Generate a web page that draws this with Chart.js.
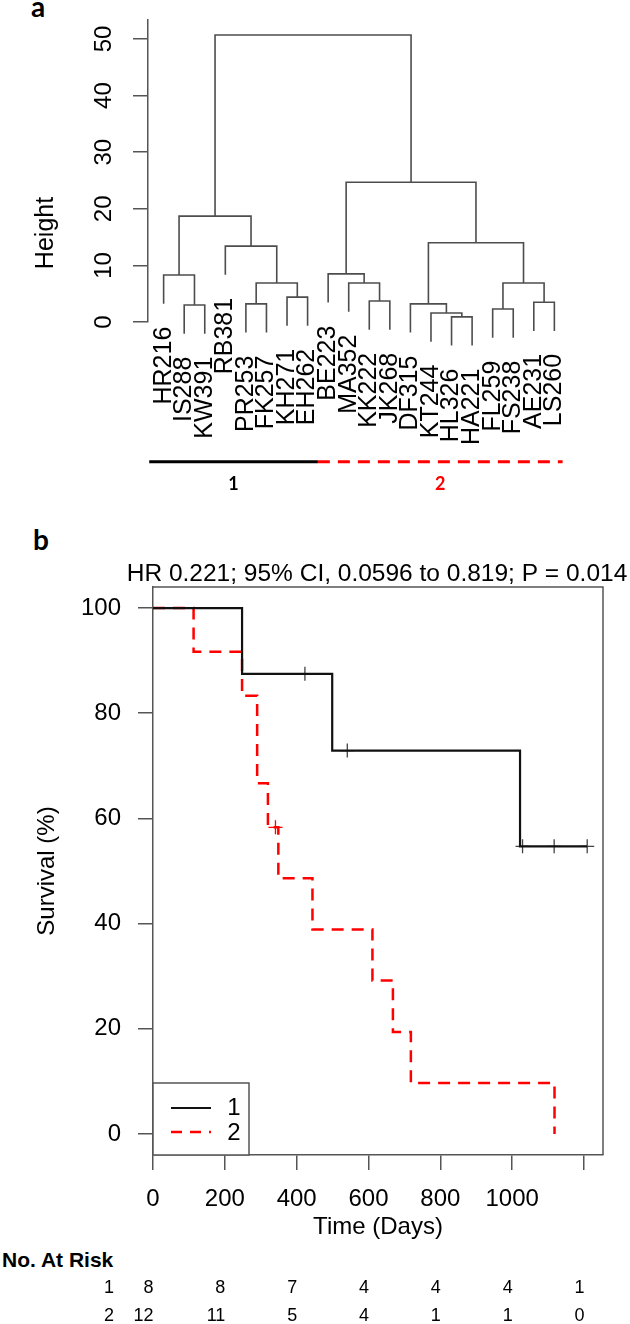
<!DOCTYPE html>
<html><head><meta charset="utf-8">
<script src="https://cdn.jsdelivr.net/npm/chart.js@4.4.0/dist/chart.umd.min.js"></script>
<style>
html,body{margin:0;padding:0;background:#fff;}
body{width:630px;height:1324px;position:relative;overflow:hidden;font-family:"Liberation Sans",Arial,sans-serif;}
canvas{position:absolute;left:0;}
#c1{top:0;} #c2{top:500px;}
.pl{position:absolute;font-family:Lato,"Open Sans",sans-serif;font-weight:bold;font-size:28px;line-height:28px;color:#000;}
#risk{position:absolute;left:2px;top:1249px;font:bold 21px/21px "Liberation Sans",Arial,sans-serif;color:#000;}
</style></head><body>
<div class="pl" style="left:31px;top:-8px;">a</div>
<div class="pl" style="left:33px;top:525px;">b</div>
<div id="risk">No. At Risk</div>
<canvas id="c1" width="630" height="500"></canvas>
<canvas id="c2" width="630" height="824"></canvas>
<script>
// ---------- Panel a: hierarchical clustering ----------
const leafLabels = ['HR216','IS288','KW391','RB381','PR253','FK257','KH271','EH262','BE223','MA352','KK222','JK268','DF315','KT244','HL326','HA221','FL259','FS238','AE231','LS260'];
// R-style merge table: negative = leaf (order position), positive = earlier merge
const mergeA = [-15,-14,-17,-2,-5,-13,-19,-11,-7, 5,-10, 3,-1,-9,-4, 6,13,14,17];
const mergeB = [-16,  1,-18,-3,-6,  2,-20,-12,-8, 9,  8, 7, 4,11,10,12,15,16,18];
const mergeHeight = [0.9,1.6,2.3,3.0,3.2,3.2,3.5,3.7,4.4,6.9,6.9,6.9,8.3,8.5,13.4,14.0,18.7,24.7,50.7];
const clusterNames = ['1','2'];
const clusterFirstLeaf = [1, 9];
const clusterLastLeaf = [8, 20];
const heightTicks = [0,10,20,30,40,50];

// ---------- Panel b: Kaplan-Meier ----------
const g1Time = [0, 248, 423, 499, 541, 1022, 1029, 1117, 1209];
const g1Surv = [100, 87.5, 87.5, 72.9, 72.9, 54.7, 54.7, 54.7, 54.7];
const g1Cens = [0, 0, 1, 0, 1, 0, 1, 1, 1];
const g2Time = [0, 113, 248, 290, 320, 341, 349, 444, 611, 668, 718, 1118];
const g2Surv = [100, 91.7, 83.3, 66.7, 58.3, 58.3, 48.6, 38.9, 29.2, 19.4, 9.7, 0];
const g2Cens = [0, 0, 0, 0, 0, 1, 0, 0, 0, 0, 0, 0];
const timeTicks = [0,200,400,600,800,1000,1200];
const timeTickLabels = ['0','200','400','600','800','1000',''];
const survTicks = [0,20,40,60,80,100];
const riskGroups = ['1','2'];
const risk1 = [8,8,7,4,4,4,1];
const risk2 = [12,11,5,4,1,1,0];
const titleText = 'HR 0.221; 95% CI, 0.0596 to 0.819; P = 0.014';

Chart.defaults.font.family = '"Liberation Sans", Arial, sans-serif';

// ---- build dendrogram segments from the merge table ----
const hang = 0.1 * Math.max(...mergeHeight);
const mergeX = [];
const leafBottom = new Array(leafLabels.length).fill(0);
const segData = [];
function childOf(c, ph) {
  if (c < 0) { leafBottom[-c - 1] = ph - hang; return {x: -c, y: ph - hang}; }
  return {x: mergeX[c - 1], y: mergeHeight[c - 1]};
}
mergeHeight.forEach((h, k) => {
  const a = childOf(mergeA[k], h), b = childOf(mergeB[k], h);
  mergeX[k] = (a.x + b.x) / 2;
  segData.push([{x: a.x, y: a.y}, {x: a.x, y: h}, {x: b.x, y: h}, {x: b.x, y: b.y}]);
});
const dendroSets = segData.map(d => ({data: d, showLine: true, borderColor: '#4d4d4d', borderWidth: 1.6, pointRadius: 0, clip: false, tension: 0}));
// cluster indicator bar
const groupLevel = -24.7;
const barEdges = [clusterFirstLeaf[0] - 0.7, clusterLastLeaf[0] + 0.5, clusterLastLeaf[1] + 0.4];
dendroSets.push({data: [{x: barEdges[0], y: groupLevel}, {x: barEdges[1], y: groupLevel}], showLine: true, borderColor: '#000', borderWidth: 3, pointRadius: 0, clip: false});
dendroSets.push({data: [{x: barEdges[1], y: groupLevel}, {x: barEdges[2], y: groupLevel}], showLine: true, borderColor: '#ff0000', borderWidth: 3, borderDash: [12, 8], pointRadius: 0, clip: false});

const dendroText = {
  id: 'dendroText',
  afterDraw(chart) {
    const {ctx, scales: {x, y}} = chart;
    ctx.save();
    ctx.fillStyle = '#000';
    ctx.textBaseline = 'middle';
    // y tick labels (vertical)
    ctx.font = '24px "Liberation Sans"';
    ctx.textAlign = 'center';
    y.ticks.forEach(t => {
      ctx.save(); ctx.translate(104, y.getPixelForValue(t.value)); ctx.rotate(-Math.PI / 2);
      ctx.fillText(String(t.value), 0, 0); ctx.restore();
    });
    ctx.font = '25px "Liberation Sans"';
    ctx.save(); ctx.translate(46, 233); ctx.rotate(-Math.PI / 2); ctx.fillText('Height', 0, 0); ctx.restore();
    // leaf labels
    ctx.textAlign = 'right';
    leafLabels.forEach((lab, i) => {
      ctx.save(); ctx.translate(x.getPixelForValue(i + 1), y.getPixelForValue(leafBottom[i]) + 23); ctx.rotate(-Math.PI / 2);
      ctx.fillText(lab, 0, 0); ctx.restore();
    });
    // cluster names
    ctx.textAlign = 'center';
    ctx.font = 'bold 18px Lato, "Liberation Sans"';
    const mids = [(barEdges[0] + barEdges[1]) / 2, (barEdges[1] + barEdges[2]) / 2];
    const cols = ['#000', '#ff0000'];
    clusterNames.forEach((n, i) => {
      ctx.fillStyle = cols[i];
      ctx.fillText(n, x.getPixelForValue(mids[i]), y.getPixelForValue(groupLevel) + 22);
    });
    ctx.restore();
  }
};

new Chart(document.getElementById('c1'), {
  type: 'scatter',
  data: {datasets: dendroSets},
  options: {
    responsive: false, animation: false, devicePixelRatio: 1,
    layout: {padding: {left: 118, right: 60, top: 20, bottom: 178}},
    plugins: {legend: {display: false}, tooltip: {enabled: false}},
    scales: {
      x: {type: 'linear', display: false, min: 0.24, max: 20.76},
      y: {type: 'linear', min: 0, max: 53.36,
          afterFit: s => { s.width = 30; },
          afterBuildTicks: s => { s.ticks = heightTicks.map(v => ({value: v})); },
          ticks: {display: false},
          grid: {drawOnChartArea: false, drawTicks: true, tickLength: 15, color: '#555', lineWidth: 1.5},
          border: {display: true, color: '#555', width: 1.5}}
    }
  },
  plugins: [dendroText]
});

// ---- KM chart ----
const pts = (t, s) => t.map((v, i) => ({x: v, y: s[i]}));
const cens = (t, s, c) => t.map((v, i) => ({x: v, y: s[i]})).filter((p, i) => c[i] === 1);

const kmText = {
  id: 'kmText',
  afterDatasetsDraw(chart) {
    const {ctx, chartArea: ca, scales: {x, y}} = chart;
    ctx.save();
    // box top/right
    ctx.strokeStyle = '#555'; ctx.lineWidth = 1.5;
    ctx.beginPath();
    ctx.moveTo(ca.left, ca.top); ctx.lineTo(ca.right, ca.top); ctx.lineTo(ca.right, ca.bottom);
    ctx.stroke();
    // legend
    const lw = 96, lh = 72;
    ctx.fillStyle = '#fff';
    ctx.fillRect(ca.left, ca.bottom - lh, lw, lh);
    ctx.strokeRect(ca.left, ca.bottom - lh, lw, lh);
    ctx.lineWidth = 2.2; ctx.strokeStyle = '#111';
    ctx.beginPath(); ctx.moveTo(ca.left + 18, ca.bottom - 47); ctx.lineTo(ca.left + 58, ca.bottom - 47); ctx.stroke();
    ctx.lineWidth = 2.5; ctx.strokeStyle = '#ff0000'; ctx.setLineDash([11, 8]);
    ctx.beginPath(); ctx.moveTo(ca.left + 18, ca.bottom - 23); ctx.lineTo(ca.left + 58, ca.bottom - 23); ctx.stroke();
    ctx.setLineDash([]);
    ctx.fillStyle = '#000';
    ctx.font = '24px "Liberation Sans"';
    ctx.textAlign = 'center'; ctx.textBaseline = 'middle';
    ctx.fillText(riskGroups[0], ca.left + 81, ca.bottom - 47);
    ctx.fillText(riskGroups[1], ca.left + 81, ca.bottom - 22);
    // y tick labels
    ctx.textAlign = 'right';
    y.ticks.forEach(t => ctx.fillText(String(t.value), ca.left - 32, y.getPixelForValue(t.value)));
    // x tick labels
    ctx.textAlign = 'center';
    x.ticks.forEach((t, i) => ctx.fillText(timeTickLabels[i], x.getPixelForValue(t.value), ca.bottom + 44));
    ctx.fillText('Time (Days)', (ca.left + ca.right) / 2, ca.bottom + 72);
    ctx.save(); ctx.translate(47, (ca.top + ca.bottom) / 2); ctx.rotate(-Math.PI / 2);
    ctx.fillText('Survival (%)', 0, 0); ctx.restore();
    // title
    ctx.font = '24.5px "Liberation Sans"';
    ctx.textBaseline = 'alphabetic';
    ctx.fillText(titleText, (ca.left + ca.right) / 2 - 1, ca.top - 6);
    // numbers at risk
    ctx.textBaseline = 'middle';
    ctx.font = '18px "Liberation Sans"';
    ctx.textAlign = 'right';
    [risk1, risk2].forEach((row, r) => {
      const ry = ca.bottom + 133 + r * 28;
      ctx.fillText(riskGroups[r], 114, ry);
      row.forEach((n, i) => ctx.fillText(String(n), x.getPixelForValue(timeTicks[i]) + 0.5, ry));
    });
    ctx.restore();
  }
};

new Chart(document.getElementById('c2'), {
  type: 'scatter',
  data: {datasets: [
    {data: pts(g1Time, g1Surv), showLine: true, stepped: 'before', borderColor: '#111', borderWidth: 2.2, pointRadius: 0, clip: false},
    {data: pts(g2Time, g2Surv), showLine: true, stepped: 'before', borderColor: '#ff0000', borderWidth: 2.5, borderDash: [12, 8], pointRadius: 0, clip: false},
    {data: cens(g1Time, g1Surv, g1Cens), showLine: false, pointStyle: 'cross', pointRadius: 7, pointBorderColor: '#444', pointBorderWidth: 1.3, clip: false},
    {data: cens(g2Time, g2Surv, g2Cens), showLine: false, pointStyle: 'cross', pointRadius: 7, pointBorderColor: '#ff0000', pointBorderWidth: 1.3, clip: false}
  ]},
  options: {
    responsive: false, animation: false, devicePixelRatio: 1,
    layout: {padding: {left: 123, right: 27, top: 87, bottom: 149}},
    plugins: {legend: {display: false}, tooltip: {enabled: false}},
    scales: {
      x: {type: 'linear', min: 0, max: 1253,
          afterFit: s => { s.height = 20; },
          afterBuildTicks: s => { s.ticks = timeTicks.map(v => ({value: v})); },
          ticks: {display: false},
          grid: {drawOnChartArea: false, drawTicks: true, tickLength: 15, color: '#555', lineWidth: 1.5},
          border: {display: true, color: '#555', width: 1.5}},
      y: {type: 'linear', min: -4, max: 104,
          afterFit: s => { s.width = 30; },
          afterBuildTicks: s => { s.ticks = survTicks.map(v => ({value: v})); },
          ticks: {display: false},
          grid: {drawOnChartArea: false, drawTicks: true, tickLength: 15, color: '#555', lineWidth: 1.5},
          border: {display: true, color: '#555', width: 1.5}}
    }
  },
  plugins: [kmText]
});
</script>
</body></html>
